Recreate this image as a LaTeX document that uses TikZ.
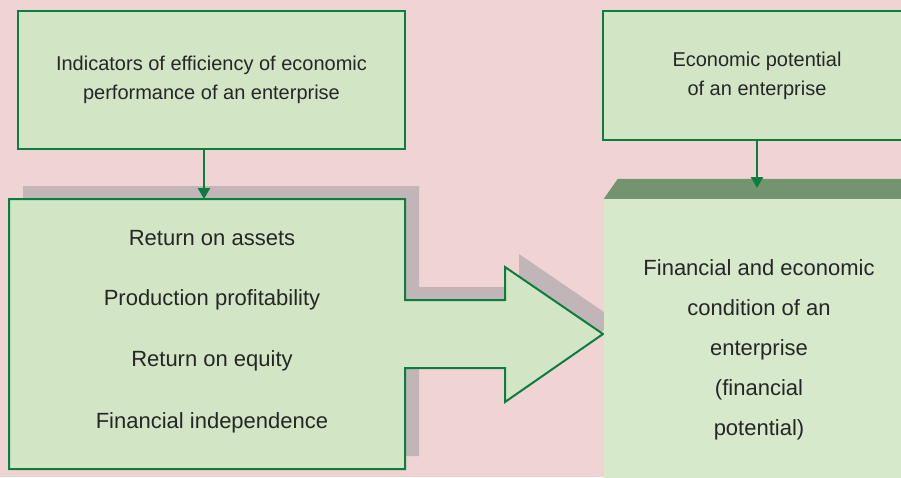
\documentclass[tikz,border=0pt]{standalone}
\usepackage{fontspec}
\setmainfont{Liberation Sans}
\usetikzlibrary{positioning,arrows.meta,calc}
\definecolor{bgpink}{HTML}{F0D3D3}
\definecolor{boxgreen}{HTML}{D2E6C6}
\definecolor{palegreen}{HTML}{D7E9CB}
\definecolor{linegreen}{HTML}{0B7D3E}
\definecolor{bargreen}{HTML}{74946F}
\definecolor{shadowgrey}{HTML}{C2B5B8}
\definecolor{ink}{HTML}{262626}
\tikzset{
  topbox/.style={draw=linegreen, fill=boxgreen, line width=2pt, align=center,
    text=ink, inner sep=0pt, font=\fontsize{20}{29}\selectfont},
  item/.style={text=ink, font=\fontsize{22}{26}\selectfont},
  link/.style={linegreen, line width=2.5pt, -{Triangle[width=12pt,length=11pt]}}
}

\begin{document}
\begin{tikzpicture}[x=1pt, y=-1pt]
  \path[use as bounding box, fill=bgpink] (0,0) rectangle (901,477);
  \clip (0,0) rectangle (901,477);
  % upper boxes
  \node[topbox, minimum width=387pt, minimum height=138pt] (ind) at (211.5,80)
    {Indicators of efficiency of economic\\performance of an enterprise};
  \node[topbox, minimum width=308pt, minimum height=129pt] (pot) at (757,75.5)
    {Economic potential\\of an enterprise};
  % shadow and box with arrow
  \begin{scope}[shift={(14,-13)}]
    \fill[shadowgrey] (9,199) -- (405,199) -- (405,300) -- (505,300) -- (505,267) -- (603,334)
      -- (505,402) -- (505,368) -- (405,368) -- (405,469) -- (9,469) -- cycle;
  \end{scope}
  \draw[linegreen, fill=boxgreen, line width=2pt] (9,199) -- (405,199) -- (405,300) -- (505,300)
    -- (505,267) -- (603,334) -- (505,402) -- (505,368) -- (405,368) -- (405,469) -- (9,469) -- cycle;
  \foreach \t [count=\i] in {Return on assets, Production profitability, Return on equity, Financial independence}
    \node[item] (r\i) at (212,{176+61.7*\i}) {\t};
  % condition box
  \node[fill=palegreen, minimum width=310pt, minimum height=296pt, inner sep=0pt, align=center,
    text=ink, font=\fontsize{22}{40}\selectfont] (cond) at (759,347) {};
  \node[text=ink, align=center, font=\fontsize{22}{40}\selectfont] (condtext) at (759,350)
    {Financial and economic\\condition of an\\enterprise\\(financial\\potential)};
  \fill[bargreen] (cond.north west) -- ++(14,-20) -| (cond.north east) -- cycle;
  % arrows
  \coordinate (lt) at (204,199);
  \coordinate (bt) at (757,188);
  \draw[link] (ind.south -| lt) -- (lt);
  \draw[link] (pot.south) -- (bt);
\end{tikzpicture}
\end{document}
